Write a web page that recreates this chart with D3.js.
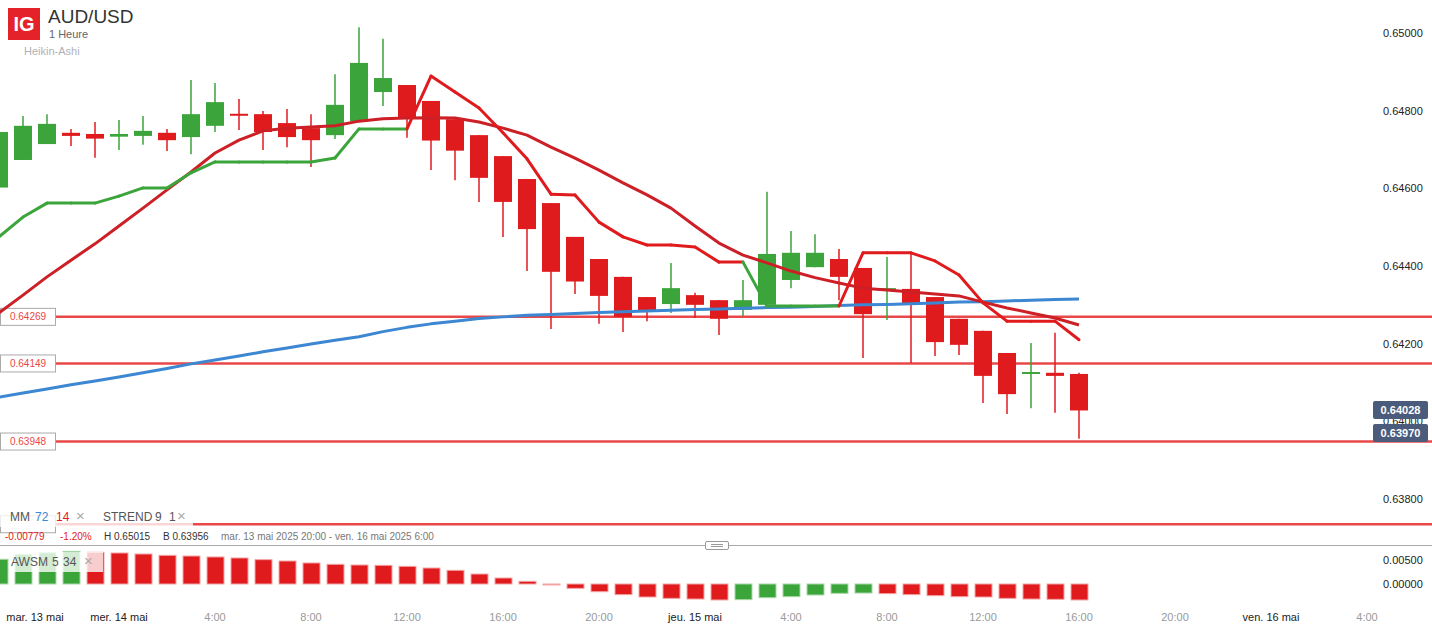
<!DOCTYPE html>
<html>
<head>
<meta charset="utf-8">
<script src="https://cdn.jsdelivr.net/npm/d3@7"></script>
<style>
  body { margin: 0; background: #fff; font-family: "Liberation Sans", Arial, sans-serif; }
  svg { display: block; }
</style>
</head>
<body>
<div class="wrapper"></div>
<script>
// Heikin-Ashi candles, 1h, from mar. 13 mai 19:00
var startTime = new Date(2025, 4, 13, 19);
var opens  = [0.64602,0.64673,0.64714,0.64743,0.64740,0.64733,0.64735,0.64743,0.64732,0.64761,0.64792,0.64791,0.64768,0.64755,0.64737,0.64773,0.64848,0.64866,0.64825,0.64778,0.64737,0.64683,0.64624,0.64562,0.64475,0.64418,0.64372,0.64320,0.64302,0.64325,0.64312,0.64287,0.64300,0.64364,0.64397,0.64418,0.64395,0.64336,0.64341,0.64320,0.64264,0.64233,0.64176,0.64125,0.64125,0.64122];
var highs  = [0.64750,0.64786,0.64791,0.64753,0.64771,0.64776,0.64786,0.64753,0.64879,0.64871,0.64830,0.64799,0.64804,0.64791,0.64894,0.65015,0.64985,0.64866,0.64825,0.64778,0.64737,0.64683,0.64624,0.64562,0.64475,0.64418,0.64372,0.64320,0.64408,0.64331,0.64312,0.64364,0.64591,0.64490,0.64482,0.64444,0.64395,0.64423,0.64434,0.64320,0.64264,0.64233,0.64176,0.64202,0.64228,0.64125];
var lows   = [0.64600,0.64673,0.64714,0.64709,0.64679,0.64699,0.64712,0.64696,0.64688,0.64745,0.64750,0.64699,0.64706,0.64655,0.64727,0.64773,0.64812,0.64730,0.64647,0.64621,0.64565,0.64475,0.64387,0.64238,0.64328,0.64251,0.64230,0.64258,0.64279,0.64266,0.64222,0.64271,0.64300,0.64343,0.64397,0.64312,0.64163,0.64261,0.64150,0.64168,0.64171,0.64047,0.64019,0.64034,0.64022,0.63955];
var closes = [0.64745,0.64761,0.64766,0.64735,0.64728,0.64740,0.64748,0.64724,0.64791,0.64822,0.64790,0.64745,0.64732,0.64724,0.64815,0.64923,0.64884,0.64781,0.64723,0.64697,0.64627,0.64565,0.64495,0.64385,0.64360,0.64323,0.64269,0.64285,0.64343,0.64300,0.64264,0.64312,0.64431,0.64434,0.64434,0.64372,0.64276,0.64343,0.64302,0.64204,0.64197,0.64117,0.64070,0.64127,0.64117,0.64028];

// MM 72 (blue) and MM 14 (red)
var ma72 = [0.64062,0.64073,0.64083,0.64094,0.64104,0.64114,0.64125,0.64136,0.64148,0.64158,0.64168,0.64179,0.64189,0.64199,0.64209,0.64218,0.64231,0.64242,0.64251,0.64258,0.64265,0.64269,0.64273,0.64275,0.64278,0.64280,0.64282,0.64284,0.64286,0.64288,0.64289,0.64291,0.64293,0.64294,0.64296,0.64298,0.64300,0.64301,0.64303,0.64305,0.64307,0.64308,0.64310,0.64312,0.64314,0.64315];
var ma14 = [0.64279,0.64325,0.64372,0.64415,0.64457,0.64503,0.64549,0.64596,0.64642,0.64691,0.64724,0.64748,0.64755,0.64758,0.64761,0.64773,0.64779,0.64781,0.64782,0.64781,0.64771,0.64755,0.64737,0.64706,0.64678,0.64647,0.64614,0.64583,0.64549,0.64503,0.64459,0.64428,0.64408,0.64387,0.64370,0.64356,0.64343,0.64338,0.64333,0.64328,0.64323,0.64307,0.64292,0.64279,0.64266,0.64248];

// STREND 9 1 : value and direction (1 = up/green, -1 = down/red)
var strend = [0.64475,0.64526,0.64562,0.64562,0.64562,0.64580,0.64601,0.64601,0.64640,0.64668,0.64668,0.64668,0.64668,0.64668,0.64678,0.64753,0.64753,0.64753,0.64889,0.64848,0.64807,0.64743,0.64676,0.64585,0.64583,0.64513,0.64475,0.64454,0.64454,0.64449,0.64410,0.64410,0.64297,0.64297,0.64297,0.64297,0.64434,0.64434,0.64434,0.64413,0.64377,0.64305,0.64258,0.64258,0.64258,0.64210];
var strendDir = [1,1,1,1,1,1,1,1,1,1,1,1,1,1,1,1,1,1,-1,-1,-1,-1,-1,-1,-1,-1,-1,-1,-1,-1,-1,-1,1,1,1,1,-1,-1,-1,-1,-1,-1,-1,-1,-1,-1];

// AWSM 5 34
var awsm = [0.00515,0.00620,0.00650,0.00680,0.00660,0.00646,0.00625,0.00597,0.00583,0.00563,0.00542,0.00507,0.00479,0.00438,0.00410,0.00396,0.00389,0.00368,0.00333,0.00285,0.00208,0.00125,0.00056,-0.00008,-0.00090,-0.00160,-0.00222,-0.00271,-0.00299,-0.00313,-0.00333,-0.00326,-0.00285,-0.00264,-0.00229,-0.00194,-0.00188,-0.00201,-0.00222,-0.00243,-0.00264,-0.00271,-0.00299,-0.00313,-0.00319,-0.00333];

var priceLines = [0.64269, 0.64149, 0.63948, 0.63735];
var priceTicks = [0.65, 0.648, 0.646, 0.644, 0.642, 0.640, 0.638];
var aoTicks = [0.005, 0];
var priceTags = [0.64028, 0.63970];
var timeTicks = [
  ["2025-05-13T00:00", "mar. 13 mai", true],
  ["2025-05-14T00:00", "mer. 14 mai", true],
  ["2025-05-14T04:00", "4:00", false],
  ["2025-05-14T08:00", "8:00", false],
  ["2025-05-14T12:00", "12:00", false],
  ["2025-05-14T16:00", "16:00", false],
  ["2025-05-14T20:00", "20:00", false],
  ["2025-05-15T00:00", "jeu. 15 mai", true],
  ["2025-05-15T04:00", "4:00", false],
  ["2025-05-15T08:00", "8:00", false],
  ["2025-05-15T12:00", "12:00", false],
  ["2025-05-15T16:00", "16:00", false],
  ["2025-05-15T20:00", "20:00", false],
  ["2025-05-16T00:00", "ven. 16 mai", true],
  ["2025-05-16T04:00", "4:00", false]
];

var width = 1432, height = 626;
var RED = "#e01b1e", GREEN = "#3ba53b", DARKRED = "#cc1f26", BLUE = "#3b87d1", LINE = "#e84848";

var candles = opens.map(function(o, i) {
  return { t: d3.timeHour.offset(startTime, i), o: o, h: highs[i], l: lows[i], c: closes[i],
           ma72: ma72[i], ma14: ma14[i], st: strend[i], dir: strendDir[i], ao: awsm[i] };
});

var svg = d3.select(".wrapper").append("svg")
  .attr("width", width).attr("height", height);

var x = d3.scaleTime()
  .domain([startTime, d3.timeHour.offset(startTime, 59)])
  .range([-1, -1 + 59 * 24]);
var y = d3.scaleLinear().domain([0.638, 0.65]).range([499, 33]);
var yAo = d3.scaleLinear().domain([0, 0.005]).range([584, 560]);

// horizontal price levels
var levels = svg.append("g");
levels.selectAll("line").data(priceLines).enter().append("line")
  .attr("x1", 55).attr("x2", width)
  .attr("y1", function(d) { return y(d); }).attr("y2", function(d) { return y(d); })
  .attr("stroke", LINE).attr("stroke-width", 2.5);
// the lowest level's label sits under the legend, so only the three upper ones get text
var lvlLab = levels.selectAll("g").data(priceLines).enter().append("g")
  .attr("transform", function(d) { return "translate(0," + y(d) + ")"; });
lvlLab.append("rect").attr("x", 0.5).attr("y", -8.5).attr("width", 55).attr("height", 17)
  .attr("fill", "#fff").attr("stroke", "#aaa");
lvlLab.filter(function(d, i) { return i < 3; }).append("text").attr("x", 28).attr("dy", "0.35em").attr("text-anchor", "middle")
  .attr("font-size", 10).attr("fill", LINE).text(function(d) { return d3.format(".5f")(d); });

// candles
var cg = svg.append("g");
cg.selectAll("line").data(candles).enter().append("line")
  .attr("x1", function(d) { return x(d.t); }).attr("x2", function(d) { return x(d.t); })
  .attr("y1", function(d) { return y(d.h); }).attr("y2", function(d) { return y(d.l); })
  .attr("stroke", function(d) { return d.c >= d.o ? GREEN : RED; })
  .attr("stroke-width", 1.5);
cg.selectAll("rect").data(candles).enter().append("rect")
  .attr("x", function(d) { return x(d.t) - 9; })
  .attr("width", 18)
  .attr("y", function(d) { return y(Math.max(d.o, d.c)); })
  .attr("height", function(d) { return Math.max(2, Math.abs(y(d.o) - y(d.c))); })
  .attr("fill", function(d) { return d.c >= d.o ? GREEN : RED; });

// moving averages
function maLine(key) {
  return d3.line().x(function(d) { return x(d.t); }).y(function(d) { return y(d[key]); });
}
svg.append("path").datum(candles).attr("d", maLine("ma72"))
  .attr("fill", "none").attr("stroke", BLUE).attr("stroke-width", 3).attr("stroke-linejoin", "round");
svg.append("path").datum(candles).attr("d", maLine("ma14"))
  .attr("fill", "none").attr("stroke", DARKRED).attr("stroke-width", 3).attr("stroke-linejoin", "round");

// supertrend, each segment coloured by direction at its end
var segs = candles.slice(1).map(function(d, i) { return [candles[i], d]; });
svg.append("g").selectAll("line").data(segs).enter().append("line")
  .attr("x1", function(s) { return x(s[0].t); }).attr("y1", function(s) { return y(s[0].st); })
  .attr("x2", function(s) { return x(s[1].t); }).attr("y2", function(s) { return y(s[1].st); })
  .attr("stroke", function(s) { return s[1].dir > 0 ? GREEN : RED; })
  .attr("stroke-width", 3).attr("stroke-linecap", "round");

// right price axis
svg.append("g").selectAll("text").data(priceTicks).enter().append("text")
  .attr("x", 1383).attr("y", function(d) { return y(d); }).attr("dy", "0.35em")
  .attr("font-size", 11).attr("fill", "#222").text(function(d) { return d3.format(".5f")(d); });

// last price tags
var tags = svg.append("g").selectAll("g").data(priceTags).enter().append("g")
  .attr("transform", function(d, i) { return "translate(1373," + (i == 0 ? 401 : 424) + ")"; });
tags.append("rect").attr("width", 55).attr("height", 18).attr("rx", 2).attr("fill", "#4a5b7b");
tags.append("text").attr("x", 27.5).attr("y", 9).attr("dy", "0.35em").attr("text-anchor", "middle")
  .attr("font-size", 11).attr("font-weight", "bold").attr("fill", "#fff")
  .text(function(d) { return d3.format(".5f")(d); });

// header
svg.append("rect").attr("x", 8).attr("y", 8).attr("width", 32).attr("height", 32).attr("fill", "#e3222a");
svg.append("text").attr("x", 24).attr("y", 31).attr("text-anchor", "middle").attr("font-size", 20)
  .attr("font-weight", "bold").attr("fill", "#fff").text("IG");
svg.append("text").attr("x", 48).attr("y", 23).attr("font-size", 19).attr("fill", "#333").text("AUD/USD");
svg.append("text").attr("x", 49).attr("y", 38).attr("font-size", 11).attr("fill", "#666").text("1 Heure");
svg.append("text").attr("x", 24).attr("y", 55).attr("font-size", 11).attr("fill", "#b0b0b8").text("Heikin-Ashi");

// indicator legend
svg.append("rect").attr("x", 0).attr("y", 508).attr("width", 193).attr("height", 19)
  .attr("fill", "#fff").attr("opacity", 0.78);
var legItems = [["MM", 10, "#555", 12], ["72", 35, BLUE, 12], ["14", 56, RED, 12], ["\u00d7", 76, "#aaa", 15],
                ["STREND", 103, "#555", 12], ["9", 155, "#555", 12], ["1", 169, "#555", 12], ["\u00d7", 177, "#aaa", 15]];
svg.append("g").selectAll("text").data(legItems).enter().append("text")
  .attr("x", function(d) { return d[1]; }).attr("y", 521).attr("font-size", function(d) { return d[3]; })
  .attr("fill", function(d) { return d[2]; }).text(function(d) { return d[0]; });

var info = svg.append("text").attr("x", 5).attr("y", 540).attr("font-size", 10).attr("fill", "#333");
info.append("tspan").attr("fill", RED).text("-0.00779");
info.append("tspan").attr("x", 60).attr("fill", RED).text("-1.20%");
info.append("tspan").attr("x", 104).text("H 0.65015");
info.append("tspan").attr("x", 163).text("B 0.63956");
info.append("tspan").attr("x", 221).attr("fill", "#777").text("mar. 13 mai 2025 20:00 - ven. 16 mai 2025 6:00");

// panel separator
svg.append("line").attr("x1", 0).attr("x2", width).attr("y1", 545.5).attr("y2", 545.5)
  .attr("stroke", "#aaa").attr("stroke-width", 1);
svg.append("rect").attr("x", 705.5).attr("y", 541.5).attr("width", 23).attr("height", 8).attr("rx", 1.5)
  .attr("fill", "#fff").attr("stroke", "#999");
svg.append("line").attr("x1", 711).attr("x2", 723).attr("y1", 544.5).attr("y2", 544.5).attr("stroke", "#999");
svg.append("line").attr("x1", 711).attr("x2", 723).attr("y1", 546.5).attr("y2", 546.5).attr("stroke", "#999");

// awesome oscillator bars
svg.append("g").selectAll("rect").data(candles).enter().append("rect")
  .attr("x", function(d) { return x(d.t) - 8; })
  .attr("width", 17)
  .attr("y", function(d) { return Math.min(yAo(d.ao), yAo(0)); })
  .attr("height", function(d) { return Math.max(1, Math.abs(yAo(d.ao) - yAo(0))); })
  .attr("fill", function(d, i) { return (i == 0 || d.ao >= candles[i - 1].ao) ? GREEN : RED; })
  .attr("stroke", function(d, i) { return (i == 0 || d.ao >= candles[i - 1].ao) ? "#a6d8a6" : "#f3a3a3"; })
  .attr("stroke-width", 1);

svg.append("g").selectAll("text").data(aoTicks).enter().append("text")
  .attr("x", 1383).attr("y", function(d) { return yAo(d); }).attr("dy", "0.35em")
  .attr("font-size", 11).attr("fill", "#222").text(function(d) { return d3.format(".5f")(d); });

svg.append("rect").attr("x", 9).attr("y", 552).attr("width", 94).attr("height", 20)
  .attr("fill", "#fff").attr("opacity", 0.78);
var aoItems = [["AWSM", 11, "#555", 12], ["5", 52, "#555", 12], ["34", 63, "#555", 12], ["\u00d7", 84, "#aaa", 15]];
svg.append("g").selectAll("text").data(aoItems).enter().append("text")
  .attr("x", function(d) { return d[1]; }).attr("y", 566).attr("font-size", function(d) { return d[3]; })
  .attr("fill", function(d) { return d[2]; }).text(function(d) { return d[0]; });

// time axis
svg.append("g").selectAll("text").data(timeTicks).enter().append("text")
  .attr("x", function(d) { return Math.max(35, x(new Date(d[0]))); })
  .attr("y", 621).attr("text-anchor", "middle").attr("font-size", 11)
  .attr("fill", function(d) { return d[2] ? "#222" : "#999"; })
  .text(function(d) { return d[1]; });
</script>
</body>
</html>
